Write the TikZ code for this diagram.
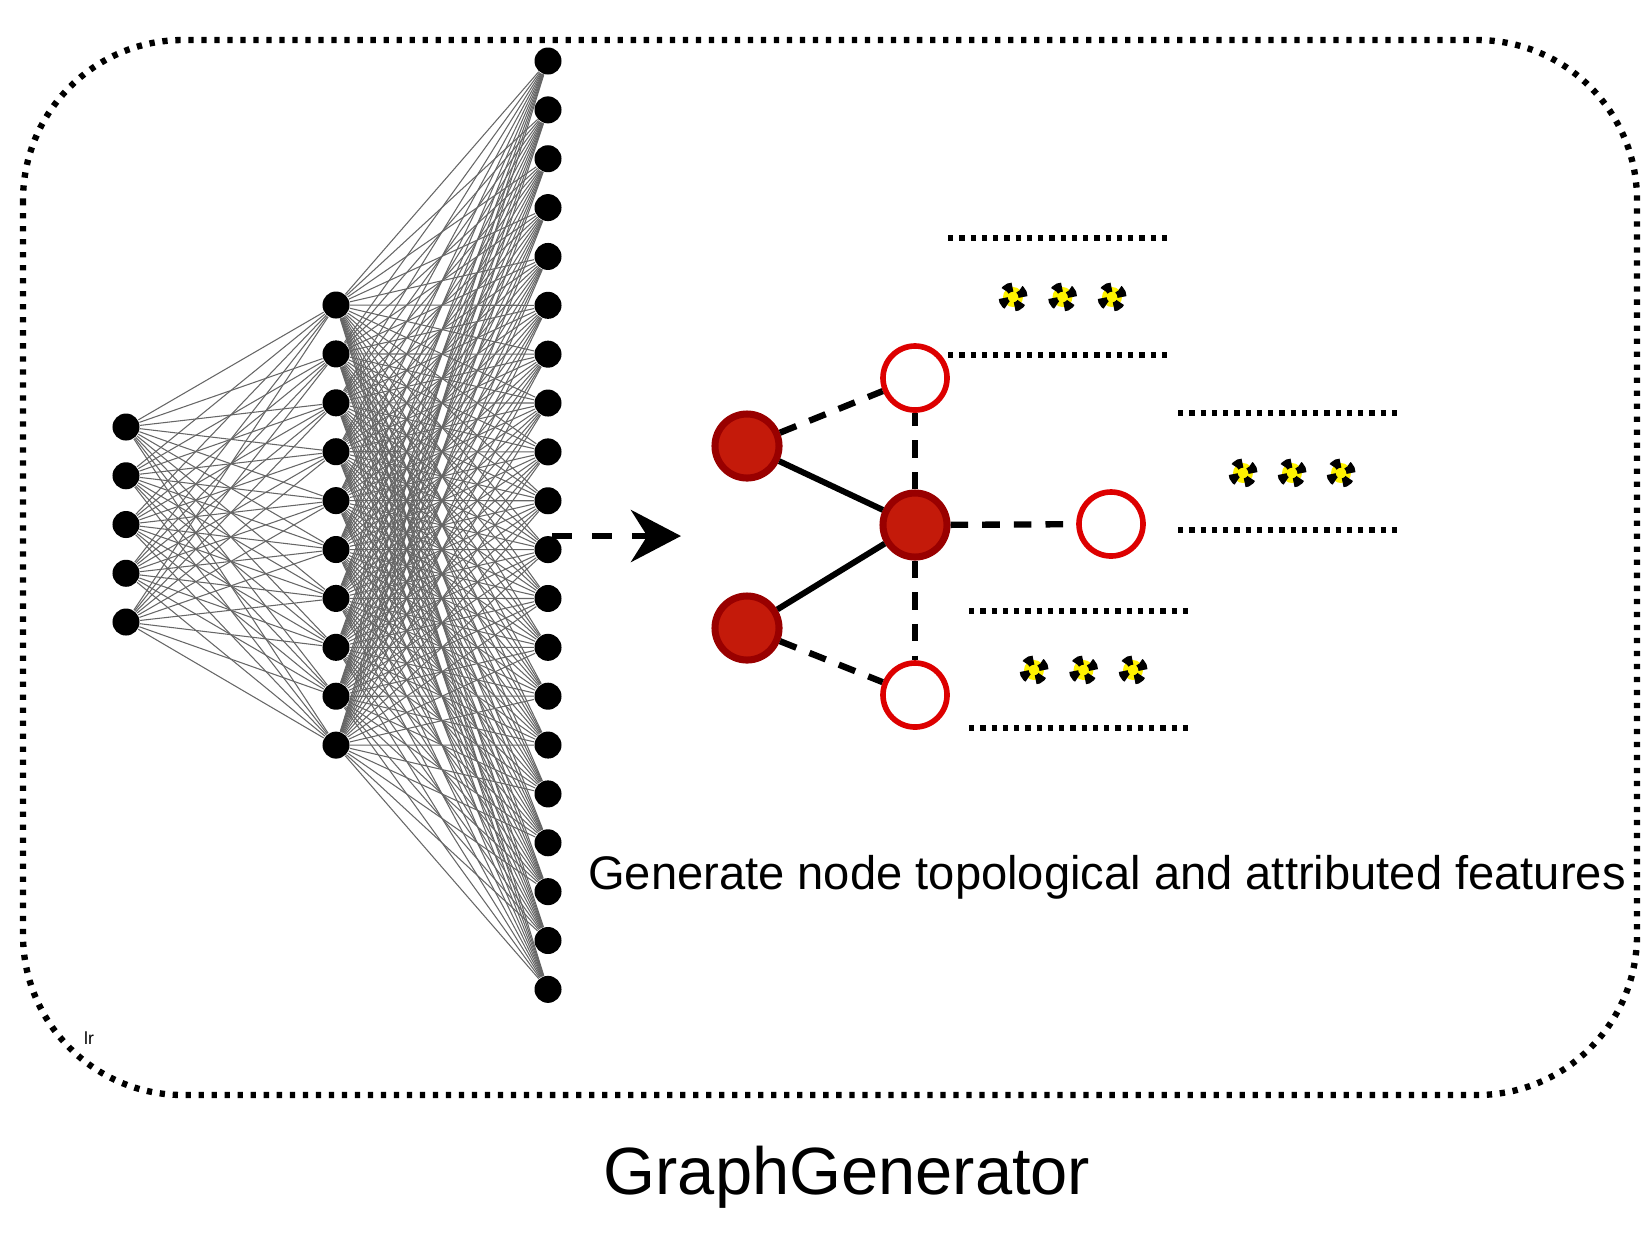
\documentclass[tikz,border=0pt]{standalone}
\usepackage{fontspec}
\setmainfont{Liberation Sans}
\usetikzlibrary{arrows.meta,backgrounds}
\definecolor{fillred}{HTML}{C41A0A}
\definecolor{darkred}{HTML}{990000}
\definecolor{ringred}{HTML}{DD0000}

\begin{document}
\begin{tikzpicture}
[x=0.01cm,y=-0.01cm,
neuron/.style={circle,fill=black,inner sep=0pt,minimum size=0.27cm},
link/.style={draw=black!60,line width=0.3pt},
full/.style={circle,fill=fillred,draw=darkred,line width=2pt,inner sep=0pt,minimum size=0.64cm},
empty/.style={circle,fill=white,draw=ringred,line width=1.6pt,inner sep=0pt,minimum size=0.64cm},
edge/.style={line width=1.7pt},
dedge/.style={line width=1.8pt,dash pattern=on 5pt off 4pt},
dots/.style={line width=1.8pt,dash pattern=on 1.5pt off 1.7pt},
spark/.style={circle,fill=yellow,draw=black,line width=2.6pt,dash pattern=on 2.3pt off 2.3pt,inner sep=0pt,minimum size=0.2cm}]
\useasboundingbox (0,0) rectangle (1643,1232);
\draw[line width=1.8pt,dash pattern=on 1.5pt off 2.2pt,rounded corners=1.6cm] (23,40) rectangle (1637,1095);
\node[font=\fontsize{5}{6}\selectfont] (lr) at (89,1038) {lr};
% network
\foreach \k in {0,...,4} \node[neuron] (in\k) at (126,427+48.75*\k) {};
\foreach \k in {0,...,9} \node[neuron] (hid\k) at (336,305+48.9*\k) {};
\foreach \k in {0,...,19} \node[neuron] (out\k) at (548,61+48.86*\k) {};
\begin{scope}[on background layer]
\foreach \i in {0,...,4} \foreach \j in {0,...,9} \draw[link] (in\i) -- (hid\j);
\foreach \i in {0,...,9} \foreach \j in {0,...,19} \draw[link] (hid\i) -- (out\j);
\end{scope}
\coordinate (arrS) at (552,536);
\coordinate (arrE) at (681,536);
\draw[line width=1.8pt,dash pattern=on 5.7pt off 5.7pt,-{Stealth[length=0.5cm,width=0.52cm]}] (arrS) -- (arrE);
% graph
\node[full] (a) at (747,446) {};
\node[full] (b) at (747,628) {};
\node[full] (c) at (915,525) {};
\node[empty] (top) at (915,378) {};
\node[empty] (bot) at (915,695) {};
\node[empty] (right) at (1111,524) {};
\draw[edge] (a) -- (c);
\draw[edge] (b) -- (c);
\draw[dedge] (a) -- (top);
\draw[dedge] (b) -- (bot);
\draw[dedge] (c) -- (top);
\draw[dedge] (c) -- (bot);
\draw[dedge] (c) -- (right);
% features
\coordinate (l1a) at (948,238); \coordinate (l1b) at (1171,238);
\coordinate (l2a) at (948,355); \coordinate (l2b) at (1171,355);
\coordinate (l3a) at (1178,413); \coordinate (l3b) at (1400,413);
\coordinate (l4a) at (1178,530); \coordinate (l4b) at (1400,530);
\coordinate (l5a) at (969,611); \coordinate (l5b) at (1191,611);
\coordinate (l6a) at (969,728); \coordinate (l6b) at (1191,728);
\draw[dots] (l1a) -- (l1b);
\draw[dots] (l2a) -- (l2b);
\draw[dots] (l3a) -- (l3b);
\draw[dots] (l4a) -- (l4b);
\draw[dots] (l5a) -- (l5b);
\draw[dots] (l6a) -- (l6b);
\foreach \k in {0,1,2} {
\node[spark] (s1\k) at (1013+49.5*\k,297) {};
\node[spark] (s2\k) at (1243+49*\k,473) {};
\node[spark] (s3\k) at (1034+49.5*\k,670) {};
}
\node[font=\fontsize{13.4}{16}\selectfont] (caption) at (1107,877) {Generate node topological and attributed features};
\node[font=\fontsize{19}{23}\selectfont] (title) at (847,1177) {GraphGenerator};
\end{tikzpicture}
\end{document}
